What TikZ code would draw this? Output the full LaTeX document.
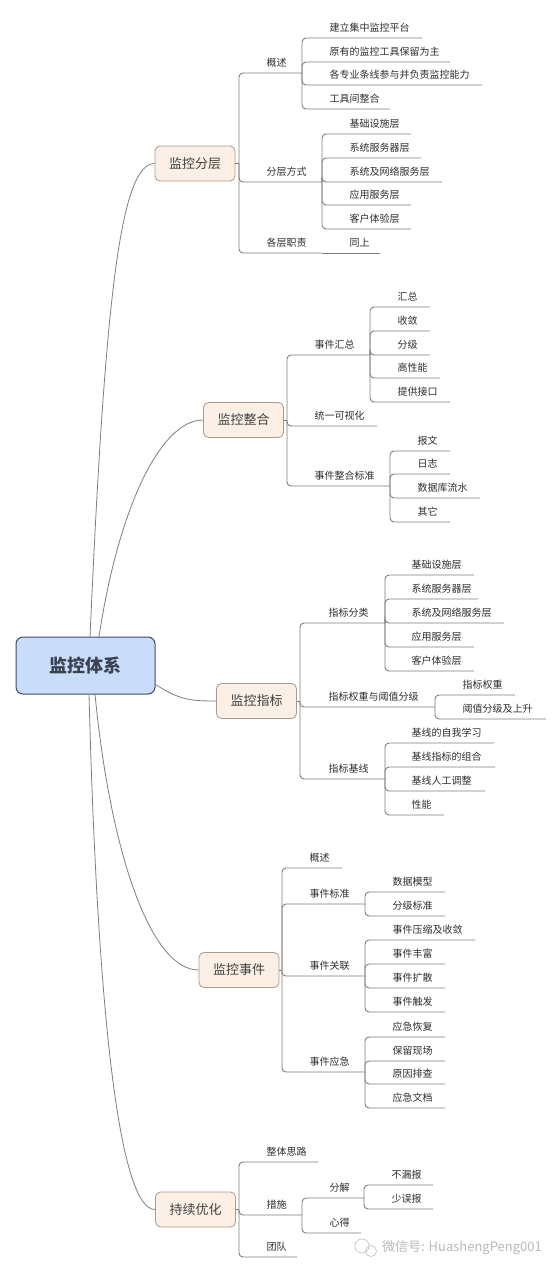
\documentclass[tikz,border=0pt]{standalone}
\usepackage{fontspec}
\setmainfont{Noto Sans CJK SC}
\usepackage{tikz}
\usetikzlibrary{positioning, calc}
\usepackage{xcolor}
\definecolor{rootfill}{HTML}{C9DCF9}
\definecolor{rootline}{HTML}{3E4C68}
\definecolor{roottext}{HTML}{3A4150}
\definecolor{topicfill}{HTML}{FCF0E6}
\definecolor{topicline}{HTML}{AE9A8A}
\definecolor{linegray}{HTML}{7E7E7E}

\begin{document}
\begin{tikzpicture}[
  x=1pt, y=-1pt,
  root/.style={draw=rootline, fill=rootfill, rounded corners=7pt, line width=1pt, minimum width=139pt, minimum height=57pt, font=\fontsize{18}{20}\selectfont\bfseries, text=roottext},
  topic/.style={draw=topicline, fill=topicfill, rounded corners=5pt, line width=0.8pt, minimum width=80pt, minimum height=35pt, font=\fontsize{13}{15}\selectfont, text=black!75},
  item/.style={anchor=west, inner sep=0pt, font=\fontsize{10}{12}\selectfont, text=black!82},
  link/.style={draw=linegray, line width=0.9pt, rounded corners=4pt},
  curve/.style={draw=linegray, line width=0.8pt}
]
  \fill[white] (0,0) rectangle (557,1273);
  \useasboundingbox (0,0) rectangle (557,1273);

  % Root and main topics
  \node[root] (sys) at (85.5, 665.5) {监控体系};
  \node[topic] (layer) at (195, 163.5) {监控分层};
  \node[topic] (integ) at (243.5, 420) {监控整合};
  \node[topic] (metric) at (256.5, 701) {监控指标};
  \node[topic] (event) at (239, 970) {监控事件};
  \node[topic] (optim) at (195.5, 1209.5) {持续优化};

  % Curves: root to main topics
  \draw[curve] (90, 637) .. controls (105, 300) and (120, 164) .. (layer.west);
  \draw[curve] (99, 637) .. controls (118, 510) and (160, 420) .. (integ.west);
  \draw[curve] (sys.south east) ++(0, -10) .. controls (180, 700) and (190, 701) .. (metric.west);
  \draw[curve] (95, 694) .. controls (110, 850) and (150, 970) .. (event.west);
  \draw[curve] (89, 694) .. controls (97, 1000) and (118, 1210) .. (optim.west);

  % 监控分层
  \coordinate (layer-j) at (239, 163.5);
  \draw[link] (layer.east) -- (layer-j);
  \foreach \n/\y/\e/\t in {ov/73/302/概述, way/182/322/分层方式, duty/253/322/各层职责} {
    \node[item] (\n) at (266.5, \y-10) {\t};
    \coordinate (\n-e) at (\e, \y);
    \draw[link] (layer-j) |- (\n-e);
  }
  \foreach \n/\y/\e/\t in {ov1/38/422/建立集中监控平台, ov2/62/450/原有的监控工具保留为主, ov3/85/482/各专业条线参与并负责监控能力, ov4/109/390/工具间整合} {
    \node[item] (\n) at (329.5, \y-10) {\t};
    \coordinate (\n-e) at (\e, \y);
    \draw[link] (ov-e) |- (\n-e);
  }
  \foreach \n/\y/\e/\t in {way1/134/411/基础设施层, way2/158/421/系统服务器层, way3/182/442/系统及网络服务层, way4/205/411/应用服务层, way5/229/411/客户体验层} {
    \node[item] (\n) at (349.5, \y-10) {\t};
    \coordinate (\n-e) at (\e, \y);
    \draw[link] (way-e) |- (\n-e);
  }
  \node[item] (duty1) at (349.5, 243) {同上};
  \coordinate (duty1-e) at (380, 253);
  \draw[link] (duty-e) -- (duty1-e);

  % 监控整合
  \coordinate (integ-j) at (287, 420);
  \draw[link] (integ.east) -- (integ-j);
  \foreach \n/\y/\e/\t in {sum/355/370/事件汇总, vis/426/377/统一可视化, std/486/390/事件整合标准} {
    \node[item] (\n) at (314.5, \y-10) {\t};
    \coordinate (\n-e) at (\e, \y);
    \draw[link] (integ-j) |- (\n-e);
  }
  \foreach \n/\y/\e/\t in {sum1/307/430/汇总, sum2/331/430/收敛, sum3/355/430/分级, sum4/378/440/高性能, sum5/402/450/提供接口} {
    \node[item] (\n) at (397.5, \y-10) {\t};
    \coordinate (\n-e) at (\e, \y);
    \draw[link] (sum-e) |- (\n-e);
  }
  \foreach \n/\y/\e/\t in {std1/451/450/报文, std2/474/450/日志, std3/498/480/数据库流水, std4/522/450/其它} {
    \node[item] (\n) at (417.5, \y-10) {\t};
    \coordinate (\n-e) at (\e, \y);
    \draw[link] (std-e) |- (\n-e);
  }

  % 监控指标
  \coordinate (metric-j) at (300, 701);
  \draw[link] (metric.east) -- (metric-j);
  \foreach \n/\y/\e/\t in {cls/623/385/指标分类, wt/707/435/指标权重与阈值分级, base/779/385/指标基线} {
    \node[item] (\n) at (328.5, \y-10) {\t};
    \coordinate (\n-e) at (\e, \y);
    \draw[link] (metric-j) |- (\n-e);
  }
  \foreach \n/\y/\e/\t in {cls1/575/474/基础设施层, cls2/599/478/系统服务器层, cls3/623/504/系统及网络服务层, cls4/647/474/应用服务层, cls5/671/474/客户体验层} {
    \node[item] (\n) at (411.5, \y-10) {\t};
    \coordinate (\n-e) at (\e, \y);
    \draw[link] (cls-e) |- (\n-e);
  }
  \foreach \n/\y/\e/\t in {wt1/695/515/指标权重, wt2/719/546/阈值分级及上升} {
    \node[item] (\n) at (462.5, \y-10) {\t};
    \coordinate (\n-e) at (\e, \y);
    \draw[link] (wt-e) |- (\n-e);
  }
  \foreach \n/\y/\e/\t in {base1/743/494/基线的自我学习, base2/767/495/基线指标的组合, base3/791/485/基线人工调整, base4/815/444/性能} {
    \node[item] (\n) at (411.5, \y-10) {\t};
    \coordinate (\n-e) at (\e, \y);
    \draw[link] (base-e) |- (\n-e);
  }

  % 监控事件
  \coordinate (event-j) at (282, 970);
  \draw[link] (event.east) -- (event-j);
  \foreach \n/\y/\e/\t in {eov/868/342/概述, estd/904/365/事件标准, rel/976/365/事件关联, emg/1072/365/事件应急} {
    \node[item] (\n) at (309.5, \y-10) {\t};
    \coordinate (\n-e) at (\e, \y);
    \draw[link] (event-j) |- (\n-e);
  }
  \foreach \n/\y/\e/\t in {estd1/892/445/数据模型, estd2/916/445/分级标准} {
    \node[item] (\n) at (392.5, \y-10) {\t};
    \coordinate (\n-e) at (\e, \y);
    \draw[link] (estd-e) |- (\n-e);
  }
  \foreach \n/\y/\e/\t in {rel1/940/475/事件压缩及收敛, rel2/964/445/事件丰富, rel3/988/445/事件扩散, rel4/1012/445/事件触发} {
    \node[item] (\n) at (392.5, \y-10) {\t};
    \coordinate (\n-e) at (\e, \y);
    \draw[link] (rel-e) |- (\n-e);
  }
  \foreach \n/\y/\e/\t in {emg1/1037/445/应急恢复, emg2/1061/445/保留现场, emg3/1084/445/原因排查, emg4/1108/445/应急文档} {
    \node[item] (\n) at (392.5, \y-10) {\t};
    \coordinate (\n-e) at (\e, \y);
    \draw[link] (emg-e) |- (\n-e);
  }

  % 持续优化
  \coordinate (optim-j) at (239, 1209.5);
  \draw[link] (optim.east) -- (optim-j);
  \foreach \n/\y/\e/\t in {idea/1162/318/整体思路, act/1215/302/措施, team/1257/297/团队} {
    \node[item] (\n) at (266.5, \y-10) {\t};
    \coordinate (\n-e) at (\e, \y);
    \draw[link] (optim-j) |- (\n-e);
  }
  \foreach \n/\y/\e/\t in {split/1198/364/分解, lesson/1233/361/心得} {
    \node[item] (\n) at (329.5, \y-10) {\t};
    \coordinate (\n-e) at (\e, \y);
    \draw[link] (act-e) |- (\n-e);
  }
  \foreach \n/\y/\e/\t in {split1/1185/433/不漏报, split2/1209/433/少误报} {
    \node[item] (\n) at (391.5, \y-10) {\t};
    \coordinate (\n-e) at (\e, \y);
    \draw[link] (split-e) |- (\n-e);
  }

  % Watermark
  \draw[gray!45, line width=0.7pt] (362, 1246) circle (7) (371, 1251) circle (5.5);
  \node[anchor=west, inner sep=0pt, text=gray!55, font=\fontsize{13}{15}\selectfont] (mark) at (382, 1248) {微信号: HuashengPeng001};
\end{tikzpicture}
\end{document}
